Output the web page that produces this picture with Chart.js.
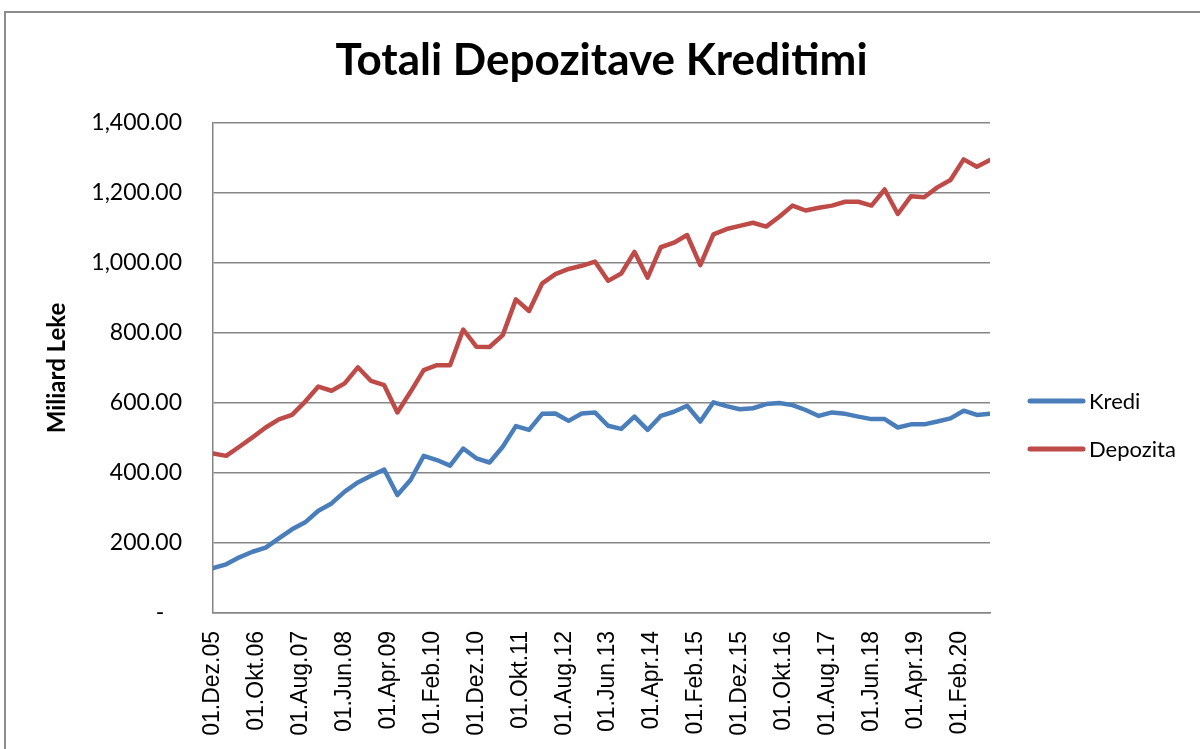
<!DOCTYPE html>
<html lang="sq">
  <head>
    <meta charset="UTF-8" />
    <title>Totali Depozitave Kreditimi</title>
    <style>
      html, body { margin: 0; padding: 0; background: #fff; }
      #frame {
        position: absolute; left: 4px; top: 11px;
        width: 1400px; height: 900px;
        border-top: 2px solid #8c8c8c; border-left: 2px solid #8c8c8c;
      }
      #wrap { position: absolute; left: 0; top: 0; width: 1200px; height: 749px; overflow: hidden; }
    </style>
  </head>
  <body>
    <div id="wrap">
      <div id="frame"></div>
      <canvas id="myChart" width="1200" height="749" style="position:absolute;left:0;top:0"></canvas>
    </div>

    <script src="https://cdn.jsdelivr.net/npm/chart.js"></script>
    <script>
      // quarterly data, first point 01.Dez.05, last point Sep 2020 (miliard leke)
      const kredi = [
        128, 139, 159, 175, 187, 213, 239, 259, 292, 313,
        347, 373, 392, 410, 337, 380, 449, 437, 421, 470,
        442, 430, 475, 534, 523, 569, 570, 549, 570, 573,
        535, 526, 561, 523, 563, 575, 592, 547, 602, 591,
        582, 585, 597, 600, 594, 580, 563, 573, 569, 561,
        554, 554, 530, 539, 539, 547, 556, 578, 566, 569
      ];
      const depozita = [
        456, 449, 475, 502, 530, 553, 566, 604, 647, 635,
        656, 702, 663, 651, 573, 632, 694, 708, 708, 810,
        761, 760, 794, 896, 863, 942, 968, 983, 992, 1004,
        949, 970, 1032, 958, 1045, 1058, 1080, 994, 1082, 1097,
        1106, 1115, 1104, 1132, 1164, 1150, 1158, 1164, 1175, 1175,
        1164, 1210, 1140, 1191, 1188, 1216, 1237, 1296, 1275, 1294
      ];
      // x axis labels, one every 10 months starting at Dez.05
      const tickLabels = [
        '01.Dez.05', '01.Okt.06', '01.Aug.07', '01.Jun.08', '01.Apr.09', '01.Feb.10',
        '01.Dez.10', '01.Okt.11', '01.Aug.12', '01.Jun.13', '01.Apr.14', '01.Feb.15',
        '01.Dez.15', '01.Okt.16', '01.Aug.17', '01.Jun.18', '01.Apr.19', '01.Feb.20'
      ];
      const yTicks = [0, 200, 400, 600, 800, 1000, 1200, 1400];

      // months since Dez.05 for each quarterly point
      const months = kredi.map((_, i) => i * 3);

      Chart.defaults.font.family = 'Lato';
      Chart.defaults.color = '#000';

      // legend drawn to the right of the plot, like the excel one
      const sideLegend = {
        id: 'sideLegend',
        afterDraw(chart) {
          const { ctx, chartArea } = chart;
          chart.data.datasets.forEach((ds, i) => {
            const x = chartArea.right + 40;
            const y = chartArea.top + 278 + i * 48;
            ctx.save();
            ctx.strokeStyle = ds.borderColor;
            ctx.lineWidth = 5;
            ctx.lineCap = 'round';
            ctx.beginPath();
            ctx.moveTo(x, y);
            ctx.lineTo(x + 53, y);
            ctx.stroke();
            ctx.fillStyle = '#000';
            ctx.font = '22px Lato';
            ctx.textBaseline = 'middle';
            ctx.fillText(ds.label, x + 59, y + 1);
            ctx.restore();
          });
        }
      };

      new Chart(document.getElementById('myChart'), {
        type: 'line',
        data: {
          datasets: [
            {
              label: 'Kredi',
              data: kredi.map((v, i) => ({ x: months[i], y: v })),
              borderColor: '#4A7EBB',
              borderWidth: 4.5,
              pointRadius: 0,
              borderJoinStyle: 'round',
              borderCapStyle: 'round',
              tension: 0
            },
            {
              label: 'Depozita',
              data: depozita.map((v, i) => ({ x: months[i], y: v })),
              borderColor: '#BE4B48',
              borderWidth: 4.5,
              pointRadius: 0,
              borderJoinStyle: 'round',
              borderCapStyle: 'round',
              tension: 0
            }
          ]
        },
        options: {
          responsive: false,
          animation: false,
          layout: { padding: { left: 30, right: 210, top: 0, bottom: 0 } },
          plugins: {
            legend: { display: false },
            tooltip: { enabled: false },
            title: {
              display: true,
              fullSize: false,
              text: 'Totali Depozitave Kreditimi',
              color: '#000',
              font: { family: 'Lato', size: 44, weight: 'bold', lineHeight: 1.2 },
              padding: { top: 34, bottom: 36.2 }
            }
          },
          scales: {
            x: {
              type: 'linear',
              min: 0,
              max: months[months.length - 1],
              grid: { display: false, drawTicks: false },
              border: { display: true, color: '#868686', width: 1.5 },
              ticks: {
                stepSize: 10,
                includeBounds: false,
                autoSkip: false,
                minRotation: 90,
                maxRotation: 90,
                padding: 18,
                font: { family: 'Liberation Sans', size: 23 },
                callback: (v) => (v % 10 === 0 ? tickLabels[v / 10] : '')
              },
              afterFit: (s) => { s.height = 136; }
            },
            y: {
              min: yTicks[0],
              max: yTicks[yTicks.length - 1],
              grid: { color: '#868686', lineWidth: 1.5, drawTicks: false },
              border: { display: true, color: '#868686', width: 1.5 },
              ticks: {
                stepSize: 200,
                padding: 31,
                font: { family: 'Lato', size: 23 },
                callback: (v) => (v === 0 ? '-   ' : v.toLocaleString('en-US', { minimumFractionDigits: 2, maximumFractionDigits: 2 }))
              },
              title: {
                display: true,
                text: 'Miliard Leke',
                font: { family: 'Lato', size: 24, weight: 'bold', lineHeight: 1.2 },
                padding: { top: 13, bottom: 0 }
              },
              afterFit: (s) => { s.width = 183; }
            }
          }
        },
        plugins: [sideLegend]
      });
    </script>
  </body>
</html>
